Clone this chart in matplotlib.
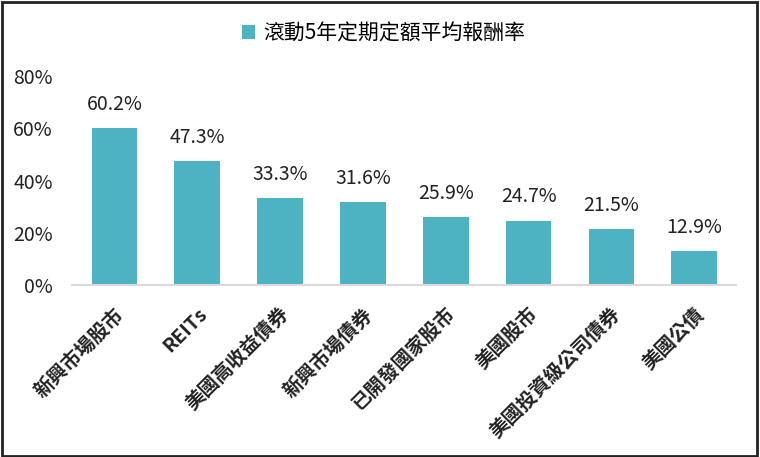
import matplotlib.pyplot as plt
from matplotlib.patches import Rectangle

plt.rcParams['font.family'] = ['Noto Sans CJK TC', 'DejaVu Sans']

categories = ['新興市場股市', 'REITs', '美國高收益債券', '新興市場債券',
              '已開發國家股市', '美國股市', '美國投資級公司債券', '美國公債']
returns = [60.2, 47.3, 33.3, 31.6, 25.9, 24.7, 21.5, 12.9]
y_ticks = [0, 20, 40, 60, 80]
series_name = '滾動5年定期定額平均報酬率'

bar_color = '#4db3c3'

fig = plt.figure(figsize=(7.6, 4.57), dpi=100)
ax = fig.add_axes([0.095, 0.376, 0.873, 0.458])

x = range(len(categories))
bars = ax.bar(x, returns, width=0.55, color=bar_color, label=series_name, zorder=2)

for b, v in zip(bars, returns):
    ax.text(b.get_x() + b.get_width() / 2, v + 5, f'{v:.1f}%',
            ha='center', va='bottom', fontsize=14, color='#222222')

ax.set_xlim(-0.51, 7.5)
ax.set_ylim(0, 80)
ax.set_yticks(y_ticks)
ax.set_yticklabels([f'{t}%' for t in y_ticks], fontsize=14, color='#222222')
ax.set_xticks(list(x))
ax.set_xticklabels(categories, rotation=45, ha='right', rotation_mode='anchor',
                   fontsize=14, fontweight='bold', color='#222222')
ax.tick_params(axis='both', length=0)
ax.tick_params(axis='x', pad=14)
ax.tick_params(axis='y', pad=14)

for s in ['top', 'right', 'left']:
    ax.spines[s].set_visible(False)
ax.spines['bottom'].set_color('#d9d9d9')
ax.spines['bottom'].set_linewidth(1.5)

fig.legend(loc='center', bbox_to_anchor=(0.505, 0.927), frameon=False,
           fontsize=15, handlelength=0.65, handleheight=0.65, handletextpad=0.4)

fig.patches.append(Rectangle((0.002, 0.003), 0.994, 0.993, transform=fig.transFigure,
                             fill=False, edgecolor='#222222', linewidth=2))

fig.savefig('out.png', dpi=100)
